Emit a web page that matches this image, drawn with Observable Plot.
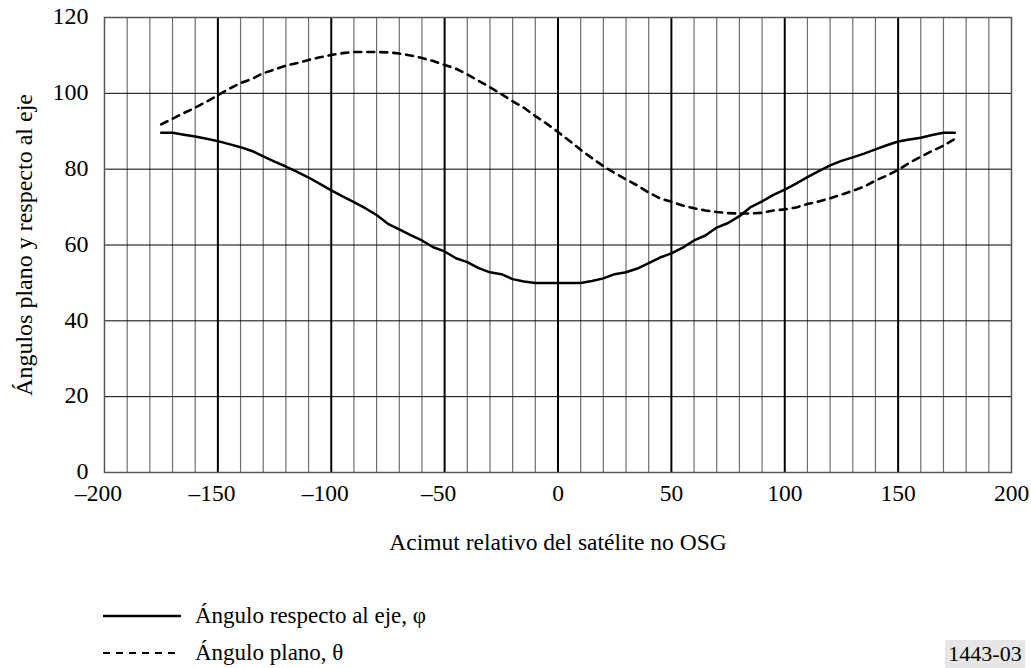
<!DOCTYPE html>
<html>
<head>
<meta charset="utf-8">
<script src="https://cdn.jsdelivr.net/npm/d3@7"></script>
<script src="https://cdn.jsdelivr.net/npm/@observablehq/plot@0.6"></script>
<style>
  html, body { margin: 0; padding: 0; background: white; }
  body { position: relative; width: 1031px; height: 668px; overflow: hidden; font-family: "Liberation Serif", "Times New Roman", serif; }
  #legend { position: absolute; left: 103px; top: 597px; font-size: 23px; color: black; }
  .row { display: flex; align-items: center; height: 37px; }
  .row svg { margin-right: 14px; }
  #code { position: absolute; left: 945px; top: 640px; width: 80px; height: 28px; background: #e6e6e6; font-size: 22px; line-height: 28px; text-align: center; }
</style>
</head>
<body>
<div id="chart"></div>
<div id="legend"></div>
<div id="code">1443-03</div>
<script>
// Data
const azimuth = [-175,-170,-165,-160,-155,-150,-145,-140,-135,-130,-125,-120,-115,-110,-105,-100,-95,-90,-85,-80,-75,-70,-65,-60,-55,-50,-45,-40,-35,-30,-25,-20,-15,-10,-5,0,5,10,15,20,25,30,35,40,45,50,55,60,65,70,75,80,85,90,95,100,105,110,115,120,125,130,135,140,145,150,155,160,165,170,175];
const phi = [89.6,89.6,89.1,88.6,88.0,87.4,86.6,85.8,84.8,83.4,82.0,80.7,79.3,77.8,76.1,74.4,72.8,71.3,69.7,67.9,65.6,64.1,62.6,61.2,59.4,58.3,56.5,55.5,53.9,52.8,52.3,51.0,50.4,50.0,50.0,50.0,50.0,50.0,50.5,51.2,52.3,52.8,53.8,55.2,56.7,57.8,59.3,61.2,62.5,64.6,65.8,67.6,70.0,71.5,73.2,74.6,76.2,77.9,79.5,81.0,82.2,83.1,84.1,85.2,86.3,87.3,87.8,88.3,89.0,89.6,89.6];
const theta = [91.8,93.3,94.8,96.2,97.8,99.5,101.2,102.7,103.8,105.3,106.3,107.3,108.0,108.8,109.5,110.1,110.6,110.9,110.9,110.9,110.8,110.5,110.0,109.3,108.5,107.5,106.5,105.0,103.3,101.6,99.8,97.9,96.2,94.0,92.0,89.8,87.5,85.1,82.9,80.8,79.0,77.3,75.7,73.8,72.3,71.4,70.4,69.7,69.1,68.7,68.4,68.3,68.3,68.5,69.1,69.4,69.9,70.8,71.5,72.3,73.3,74.3,75.4,77.0,78.3,79.8,81.7,83.3,84.8,86.2,88.0];
const xTicks = [-200,-150,-100,-50,0,50,100,150,200];
const yTicks = [0,20,40,60,80,100,120];
const xMinor = d3.range(-190,200,10).filter(v => v % 50 !== 0);
const xMajor = [-150,-100,-50,0,50,100,150];
const yGrid = [20,40,60,80,100];
const seriesNames = ["Ángulo respecto al eje, φ", "Ángulo plano, θ"];
const xLabel = "Acimut relativo del satélite no OSG";
const yLabel = "Ángulos plano y respecto al eje";

const phiData = azimuth.map((a, i) => ({a, v: phi[i]}));
const thetaData = azimuth.map((a, i) => ({a, v: theta[i]}));
const dash = "7,6";
const fmt = d => d < 0 ? "–" + Math.abs(d) : String(d);

const chart = Plot.plot({
  width: 1031,
  height: 580,
  marginLeft: 104,
  marginRight: 20,
  marginTop: 17,
  marginBottom: 108,
  style: {fontFamily: "'Liberation Serif', 'Times New Roman', serif", fontSize: "23.5px", color: "black", background: "white"},
  x: {domain: [-200, 200]},
  y: {domain: [0, 120]},
  marks: [
    Plot.ruleX(xMinor, {stroke: "#6e6e6e", strokeWidth: 1.2}),
    Plot.ruleY(yGrid, {stroke: "black", strokeWidth: 1}),
    Plot.ruleX(xMajor, {stroke: "black", strokeWidth: 2}),
    Plot.frame({stroke: "#555", strokeWidth: 1.5}),
    Plot.axisX({ticks: xTicks.filter(d => d >= 0), tickSize: 0, tickPadding: 12, tickFormat: fmt,
      label: xLabel, labelAnchor: "center", labelArrow: "none", labelOffset: 77, fontSize: 23.5}),
    Plot.axisX({ticks: xTicks.filter(d => d < 0), tickSize: 0, tickPadding: 12, tickFormat: fmt, dx: -6,
      label: null, fontSize: 23.5}),
    Plot.axisY({ticks: yTicks, tickSize: 0, tickPadding: 16, dy: -1,
      label: yLabel, labelAnchor: "center", labelArrow: "none", labelOffset: 90, fontSize: 24}),
    Plot.line(thetaData, {x: "a", y: "v", stroke: "black", strokeWidth: 2.6, strokeDasharray: dash}),
    Plot.line(phiData, {x: "a", y: "v", stroke: "black", strokeWidth: 2.5})
  ]
});
document.getElementById("chart").appendChild(chart);

const legend = document.getElementById("legend");
seriesNames.forEach((name, i) => {
  const row = document.createElement("div");
  row.className = "row";
  const ns = "http://www.w3.org/2000/svg";
  const s = document.createElementNS(ns, "svg");
  s.setAttribute("width", 78); s.setAttribute("height", 6);
  const l = document.createElementNS(ns, "line");
  l.setAttribute("x1", 0); l.setAttribute("x2", 78); l.setAttribute("y1", 3); l.setAttribute("y2", 3);
  l.setAttribute("stroke", "black"); l.setAttribute("stroke-width", i === 0 ? 2.4 : 2);
  if (i === 1) l.setAttribute("stroke-dasharray", dash);
  s.appendChild(l);
  row.appendChild(s);
  const t = document.createElement("span");
  t.textContent = name;
  row.appendChild(t);
  legend.appendChild(row);
});
</script>
</body>
</html>
